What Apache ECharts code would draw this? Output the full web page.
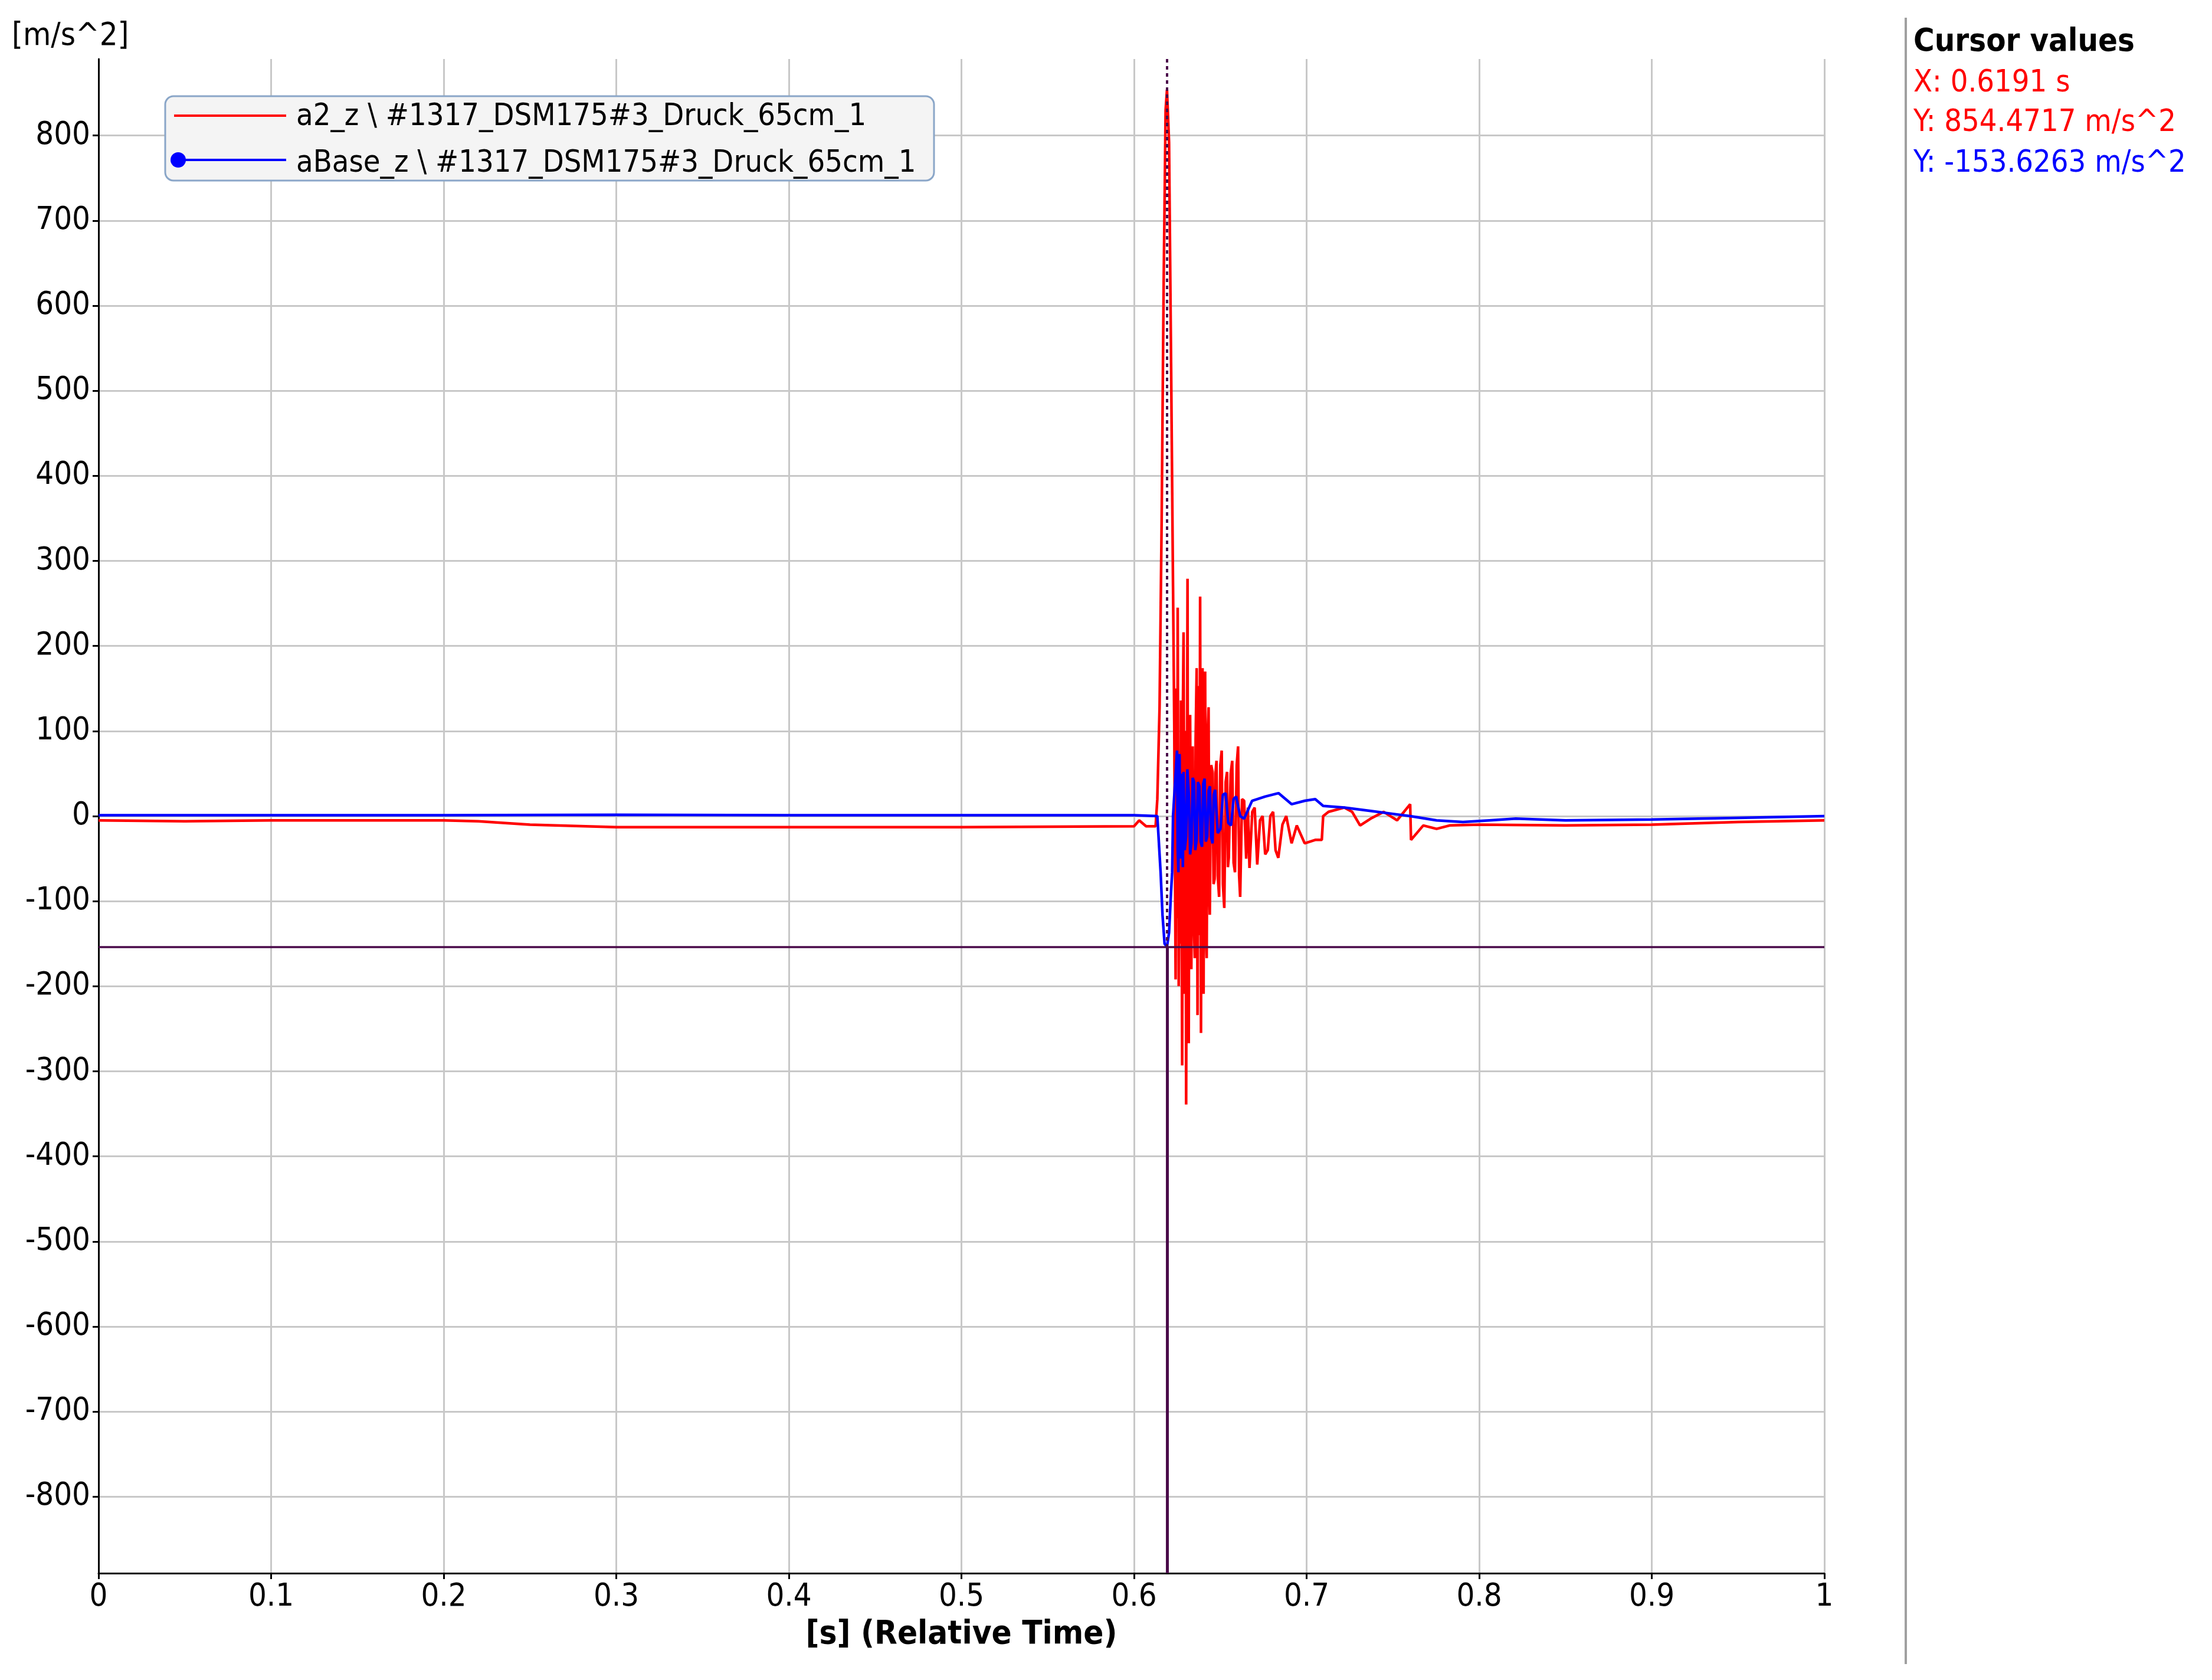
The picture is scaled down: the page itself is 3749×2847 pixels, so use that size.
<!DOCTYPE html>
<html><head><meta charset="utf-8">
<script src="https://cdn.jsdelivr.net/npm/echarts@6/dist/echarts.min.js"></script>
<style>html,body{margin:0;padding:0;background:#fff}#c{width:3749px;height:2847px}</style>
</head><body><div id="c"></div>
<script>
const FONT = '"Liberation Sans Narrow","DejaVu Sans Condensed","Noto Sans",sans-serif';
const xTicks = [0,0.1,0.2,0.3,0.4,0.5,0.6,0.7,0.8,0.9,1];
const yTicks = [-800,-700,-600,-500,-400,-300,-200,-100,0,100,200,300,400,500,600,700,800];
const seriesNames = ['a2_z \\ #1317_DSM175#3_Druck_65cm_1','aBase_z \\ #1317_DSM175#3_Druck_65cm_1'];
const cursorX = 0.6191, cursorRed = 854.4717, cursorBlue = -153.6263;
const redData = [
 [0,-5],[0.05,-6],[0.1,-5],[0.15,-5],[0.2,-5],[0.22,-6],[0.25,-10],[0.3,-13],[0.4,-13],[0.5,-13],[0.6,-12],[0.603,-5],[0.607,-12],[0.6125,-12],
 [0.6135,20],[0.6148,128],[0.616,346],[0.6172,632],[0.6183,830],[0.6191,854],[0.6203,792],[0.6215,527],[0.6226,270],[0.6233,107],
 [0.6241,-192],[0.6246,150],[0.625,-120],[0.6253,245],[0.6259,-200],[0.6265,60],[0.6268,-150],[0.6272,136],[0.6279,-293],[0.6283,120],[0.6287,216],[0.6294,-209],[0.6298,100],[0.6302,-339],[0.631,279],[0.6313,-150],[0.6317,-267],
 [0.6321,60],[0.6325,119],[0.6332,-180],[0.634,82],[0.6346,-120],[0.6352,-167],[0.6357,90],[0.6363,174],[0.6368,-234],[0.6375,153],[0.6379,-140],[0.6383,258],[0.6388,-255],[0.6393,140],[0.6397,174],[0.6403,-209],
 [0.6407,110],[0.6412,170],[0.6417,-140],[0.6421,-167],[0.6427,100],[0.6432,128],[0.6436,-90],[0.6439,-116],[0.6447,60],[0.6455,52],[0.6461,-80],[0.6467,-74],[0.6472,50],[0.6478,65],[0.6485,-70],[0.6493,-95],[0.65,60],[0.6508,77],[0.6515,-80],[0.6523,-108],
 [0.6531,40],[0.6539,52],[0.6544,-60],[0.6549,-49],[0.656,50],[0.6569,65],[0.6577,-55],[0.6585,-66],[0.6595,60],[0.6603,82],[0.6609,-70],[0.6615,-95],[0.6626,20],[0.6638,18],[0.665,-50],[0.666,10],[0.6669,-61],[0.6685,5],[0.6699,10],[0.6714,-57],
 [0.673,-5],[0.6745,0],[0.676,-45],[0.6775,-40],[0.679,0],[0.6806,5],[0.682,-40],[0.6836,-49],[0.686,-10],[0.6882,0],[0.6913,-32],[0.6943,-11],[0.6989,-32],[0.705,-28],[0.7088,-28],
 [0.7096,0],[0.7127,5],[0.7218,10],[0.7264,5],[0.731,-11],[0.7371,-3],[0.7447,5],[0.7524,-5],[0.76,14],[0.7605,-28],[0.7676,-11],
 [0.7753,-15],[0.7829,-11],[0.8,-10],[0.85,-11],[0.9,-10],[0.95,-7],[1,-5]
];
const blueData = [
 [0,1],[0.1,1],[0.2,1],[0.3,1.5],[0.4,1],[0.5,1],[0.6,1],[0.6135,0],
 [0.6142,-24],[0.6154,-66],[0.6165,-116],[0.6177,-150],[0.6191,-153.6],[0.6203,-137],[0.6214,-91],[0.6221,-66],[0.6226,0],
 [0.6249,77],[0.6253,-40],[0.6257,-66],[0.626,60],[0.6264,73],[0.6268,-50],[0.6272,50],[0.6279,-15],[0.6283,-60],[0.6287,52],[0.6294,-40],[0.6302,-24],[0.6309,55],[0.6317,27],[0.6325,-45],[0.6333,-32],[0.634,45],[0.6348,40],[0.6355,-40],[0.6363,-28],
 [0.637,40],[0.6379,35],[0.6386,-30],[0.6394,-36],[0.6401,38],[0.6409,44],[0.6416,-30],[0.6424,-24],[0.6432,30],[0.644,35],[0.6447,-25],[0.6455,-32],[0.6462,25],[0.647,31],[0.6485,-20],[0.6501,-15],[0.6515,25],[0.6531,27],[0.6546,-8],[0.6562,-11],
 [0.6577,20],[0.6592,23],[0.6615,0],[0.6638,-3],[0.6684,18],[0.676,23],[0.6837,27],[0.6913,14],[0.699,18],[0.705,20],[0.7096,12],[0.7218,10],[0.7371,6],
 [0.7524,2],[0.7600,0],[0.7753,-5],[0.7906,-7],[0.8059,-5],[0.8212,-3],[0.85,-5],[0.9,-4],[0.95,-2],[1,0]
];
const chart = echarts.init(document.getElementById('c'));
const purple = '#4a0b4a';
chart.setOption({
 animation:false,
 grid:{left:167,right:657,top:100,bottom:181,show:false},
 xAxis:{type:'value',min:0,max:1,interval:0.1,
  name:'[s] (Relative Time)',nameLocation:'middle',nameGap:76,
  nameTextStyle:{fontFamily:FONT,fontSize:56,fontWeight:'bold',color:'#000'},
  axisLine:{onZero:false,lineStyle:{color:'#000',width:3}},axisTick:{show:true,length:10,lineStyle:{color:'#000',width:3}},
  axisLabel:{fontFamily:FONT,fontSize:54,color:'#000',margin:14,formatter:v=>String(+v.toFixed(1))},
  splitLine:{show:true,lineStyle:{color:'#c8c8c8',width:3}}},
 yAxis:{type:'value',min:-890,max:890,
  axisLine:{show:true,onZero:false,lineStyle:{color:'#000',width:3}},
  axisTick:{show:true,length:10,customValues:yTicks,lineStyle:{color:'#000',width:3}},
  axisLabel:{fontFamily:FONT,fontSize:54,color:'#000',margin:14,customValues:yTicks},
  splitLine:{show:true,lineStyle:{color:'#c8c8c8',width:3}}},
 series:[
  {name:seriesNames[0],type:'line',data:redData,showSymbol:false,lineStyle:{color:'#ff0000',width:4.5},color:'#ff0000',z:3,
   markLine:{silent:true,symbol:'none',label:{show:false},data:[
    [{coord:[cursorX,890],lineStyle:{type:[6,6],color:purple,width:4}},{coord:[cursorX,cursorBlue]}],
    [{coord:[cursorX,cursorBlue],lineStyle:{type:'solid',color:purple,width:5}},{coord:[cursorX,-890]}],
    [{coord:[0,cursorBlue],lineStyle:{type:'solid',color:purple,width:3.5}},{coord:[1,cursorBlue]}]
   ]}},
  {name:seriesNames[1],type:'line',data:blueData,showSymbol:false,lineStyle:{color:'#0000ff',width:4.5},color:'#0000ff',z:4}
 ],
 graphic:[
  {type:'text',left:20,top:35,style:{text:'[m/s^2]',font:'54px '+FONT,fill:'#000'}},
  {type:'rect',shape:{x:280,y:163,width:1303,height:143,r:14},style:{fill:'#f4f4f4',stroke:'#8aa6c8',lineWidth:3},z:10},
  {type:'line',shape:{x1:295,y1:196,x2:485,y2:196},style:{stroke:'#ff0000',lineWidth:4},z:11},
  {type:'line',shape:{x1:300,y1:271,x2:485,y2:271},style:{stroke:'#0000ff',lineWidth:4},z:11},
  {type:'circle',shape:{cx:302,cy:271,r:13},style:{fill:'#0000ff'},z:11},
  {type:'text',x:502,y:198,style:{text:seriesNames[0],font:'52px '+FONT,fill:'#000',textVerticalAlign:'middle'},z:11},
  {type:'text',x:502,y:277,style:{text:seriesNames[1],font:'52px '+FONT,fill:'#000',textVerticalAlign:'middle'},z:11},
  {type:'line',shape:{x1:3230,y1:30,x2:3230,y2:2820},style:{stroke:'#a0a0a0',lineWidth:4}},
  {type:'text',x:3243,y:72,style:{text:'Cursor values',font:'bold 54px '+FONT,fill:'#000',textVerticalAlign:'middle'}},
  {type:'text',x:3243,y:141,style:{text:'X: '+cursorX.toFixed(4)+' s',font:'52px '+FONT,fill:'#ff0000',textVerticalAlign:'middle'}},
  {type:'text',x:3243,y:208,style:{text:'Y: '+cursorRed.toFixed(4)+' m/s^2',font:'52px '+FONT,fill:'#ff0000',textVerticalAlign:'middle'}},
  {type:'text',x:3243,y:277,style:{text:'Y: '+cursorBlue.toFixed(4)+' m/s^2',font:'52px '+FONT,fill:'#0000ff',textVerticalAlign:'middle'}}
 ]
});
</script></body></html>
